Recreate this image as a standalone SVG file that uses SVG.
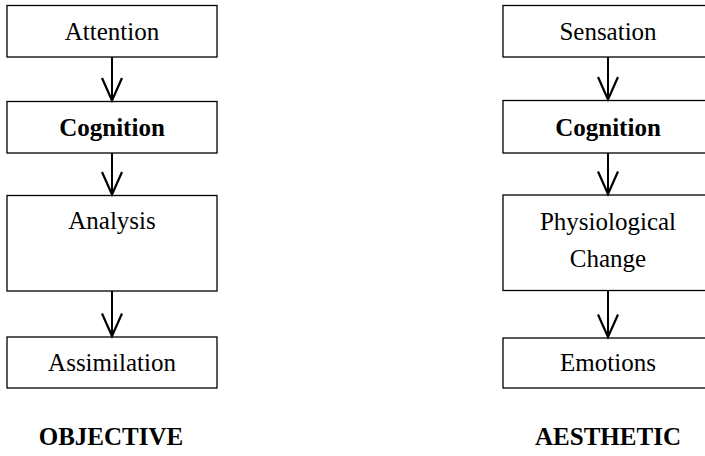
<svg xmlns="http://www.w3.org/2000/svg" width="705" height="456" viewBox="0 0 705 456">
  <style>
    .box { fill: #ffffff; stroke: #000000; stroke-width: 1.3; }
    .lbl { font-family: "Liberation Serif", "Times New Roman", serif; font-size: 25px; fill: #000000; text-anchor: middle; }
    .bold { font-weight: bold; }
    .line { stroke: #000000; stroke-width: 2; fill: none; }
    .head { stroke: #000000; stroke-width: 2.2; fill: none; stroke-linejoin: miter; }
  </style>
  <rect width="705" height="456" fill="#ffffff"/>

  <!-- left column: objective path -->
  <g id="attention">
    <rect class="box" x="7" y="5.5" width="210" height="51.5"/>
    <text class="lbl" x="112" y="40">Attention</text>
  </g>
  <g id="cognition-left">
    <rect class="box" x="7" y="101.5" width="210" height="51.5"/>
    <text class="lbl bold" x="112" y="136">Cognition</text>
  </g>
  <g id="analysis">
    <rect class="box" x="7" y="195.5" width="210" height="95.5"/>
    <text class="lbl" x="112" y="229">Analysis</text>
  </g>
  <g id="assimilation">
    <rect class="box" x="7" y="337" width="210" height="51"/>
    <text class="lbl" x="112" y="371">Assimilation</text>
  </g>
  <g id="objective">
    <text class="lbl bold" x="111" y="445">OBJECTIVE</text>
  </g>

  <!-- right column: aesthetic path -->
  <g id="sensation">
    <rect class="box" x="503" y="5.5" width="210" height="51.5"/>
    <text class="lbl" x="608" y="40">Sensation</text>
  </g>
  <g id="cognition-right">
    <rect class="box" x="503" y="100.5" width="210" height="52.5"/>
    <text class="lbl bold" x="608" y="136">Cognition</text>
  </g>
  <g id="physiological-change">
    <rect class="box" x="503" y="195" width="210" height="95.5"/>
    <text class="lbl" x="608" y="230">Physiological</text>
    <text class="lbl" x="608" y="267">Change</text>
  </g>
  <g id="emotions">
    <rect class="box" x="503" y="338" width="210" height="50"/>
    <text class="lbl" x="608" y="371">Emotions</text>
  </g>
  <g id="aesthetic">
    <text class="lbl bold" x="608" y="445">AESTHETIC</text>
  </g>

  <!-- connectors -->
  <g id="connectors">
    <line class="line" x1="112" y1="57" x2="112" y2="100.5"/>
    <polyline class="head" points="102,78 112,100.5 122,78"/>
    <line class="line" x1="112" y1="153" x2="112" y2="194.5"/>
    <polyline class="head" points="102,172 112,194.5 122,172"/>
    <line class="line" x1="112" y1="291" x2="112" y2="336"/>
    <polyline class="head" points="102,313.5 112,336 122,313.5"/>

    <line class="line" x1="608" y1="57" x2="608" y2="99.5"/>
    <polyline class="head" points="598,77 608,99.5 618,77"/>
    <line class="line" x1="608" y1="153" x2="608" y2="194"/>
    <polyline class="head" points="598,171.5 608,194 618,171.5"/>
    <line class="line" x1="608" y1="290.5" x2="608" y2="337"/>
    <polyline class="head" points="598,314.5 608,337 618,314.5"/>
  </g>
</svg>
